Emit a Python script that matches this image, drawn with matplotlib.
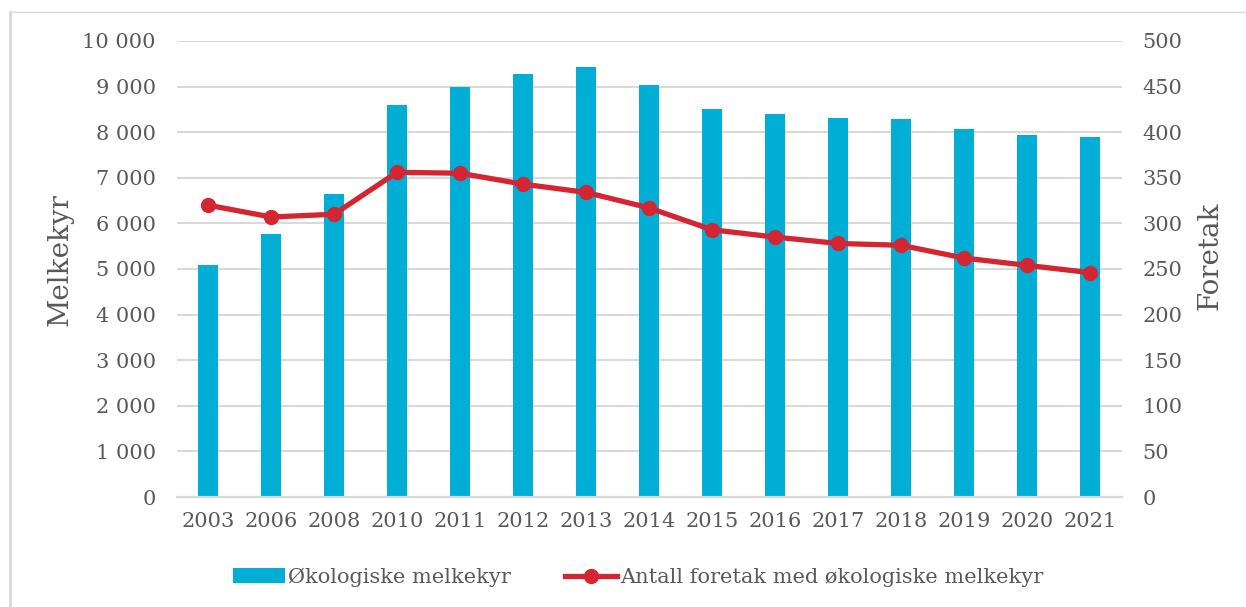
import matplotlib.pyplot as plt
import numpy as np
from matplotlib.lines import Line2D

# data
years = ['2003', '2006', '2008', '2010', '2011', '2012', '2013', '2014',
         '2015', '2016', '2017', '2018', '2019', '2020', '2021']
melkekyr = [5080, 5760, 6650, 8600, 9000, 9270, 9420, 9030,
            8500, 8390, 8300, 8280, 8080, 7940, 7890]
foretak = [320, 307, 310, 356, 355, 343, 334, 317,
           293, 285, 278, 276, 262, 254, 246]

blue = '#00AED6'
red = '#D42532'
txt = '#595959'
grid = '#D9D9D9'

plt.rcParams['font.family'] = ['DejaVu Serif']

fig = plt.figure(figsize=(12.46, 6.07), dpi=100)
ax = fig.add_axes([0.1417, 0.1812, 0.7584, 0.7513])
ax2 = ax.twinx()

x = np.arange(len(years))
ax.bar(x, melkekyr, width=0.32, color=blue, zorder=2, label='Økologiske melkekyr')
ax2.plot(x, foretak, color=red, lw=3.8, marker='o', ms=10, zorder=3,
         label='Antall foretak med økologiske melkekyr')

ax.set_xlim(-0.5, len(years) - 0.5)
ax.set_ylim(0, 10000)
ax2.set_ylim(0, 500)
ax.set_yticks(np.arange(0, 10001, 1000))
ax.set_yticklabels([f'{v:,}'.replace(',', ' ') for v in range(0, 10001, 1000)])
ax2.set_yticks(np.arange(0, 501, 50))
ax.set_xticks(x)
ax.set_xticklabels(years)

ax.yaxis.grid(True, color=grid, lw=1.5, zorder=0)
ax.set_axisbelow(True)
for a in (ax, ax2):
    for s in ('left', 'right', 'top'):
        a.spines[s].set_visible(False)
    a.spines['bottom'].set_color(grid)
    a.spines['bottom'].set_linewidth(1.5)
    a.tick_params(length=0, labelsize=15, colors=txt)
ax.tick_params(axis='y', pad=15)
ax2.tick_params(axis='y', pad=15)
ax.tick_params(axis='x', pad=11)

ax.set_ylabel('Melkekyr', fontsize=20, color=txt, va='center')
ax.yaxis.set_label_coords(-0.1233, 0.52)
ax2.set_ylabel('Foretak', fontsize=20, color=txt, va='center')
ax2.yaxis.set_label_coords(1.0937, 0.53)

h1, l1 = ax.get_legend_handles_labels()
h2, l2 = ax2.get_legend_handles_labels()
fig.legend(h1 + h2, l1 + l2, loc='center', bbox_to_anchor=(0.512, 0.049),
           ncol=2, frameon=False, fontsize=15, labelcolor=txt,
           handlelength=2.5, handletextpad=0.15, columnspacing=2.6)

# chart frame: only left and top edges are inside the picture
fx = 9.5 / 1246
fy = 1 - 11.5 / 607
fig.add_artist(Line2D([fx, fx], [0, fy], transform=fig.transFigure, color=grid, lw=2))
fig.add_artist(Line2D([fx, 1], [fy, fy], transform=fig.transFigure, color=grid, lw=1))

fig.savefig('out.png', dpi=100)
